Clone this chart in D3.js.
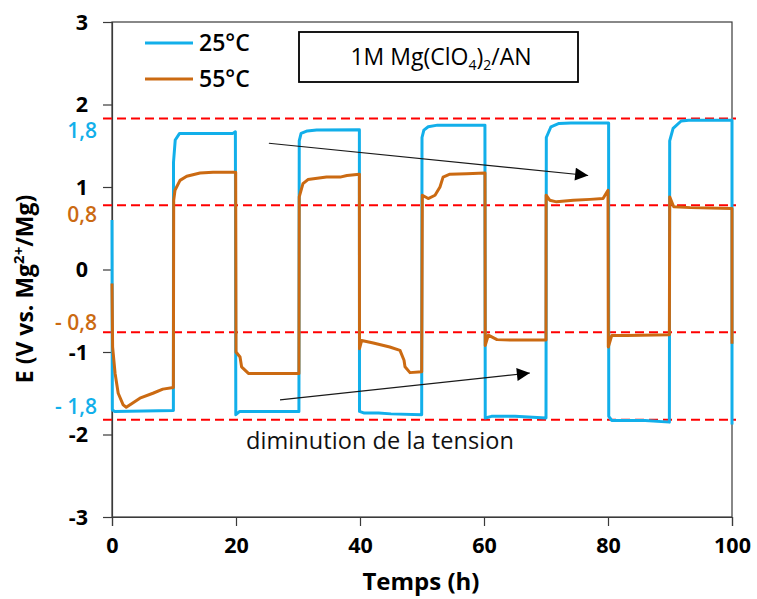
<!DOCTYPE html>
<html>
<head>
<meta charset="utf-8">
<script src="https://cdn.jsdelivr.net/npm/d3@7"></script>
<style>
  html, body { margin: 0; padding: 0; background: #fff; }
  svg { display: block; font-family: "Open Sans", "Noto Sans", sans-serif; }
</style>
</head>
<body>
<svg id="chart" width="757" height="599"></svg>
<script>
// ---- data ----
const xTicks = [0, 20, 40, 60, 80, 100];
const yTicks = [-3, -2, -1, 0, 1, 2, 3];

const series25Name = "25°C";
const series55Name = "55°C";

// [time (h), E (V)]
const blue25 = [
  [0, 0.6], [0.05, -1.7], [0.4, -1.72], [9.9, -1.71], [9.92, 1.3], [10.2, 1.57], [10.9, 1.65],
  [19.5, 1.65], [19.9, 1.67], [19.97, -1.76], [20.6, -1.72], [30.15, -1.72],
  [30.2, 1.56], [30.5, 1.65], [31.5, 1.68], [33, 1.69], [39.9, 1.695],
  [39.92, -1.72], [40.7, -1.74], [43, -1.74], [45, -1.75], [49.95, -1.76],
  [50, 1.6], [50.3, 1.69], [51, 1.73], [52.5, 1.75], [60.15, 1.75],
  [60.2, -1.8], [61.2, -1.78], [65, -1.78], [70, -1.8],
  [70.05, 1.6], [70.8, 1.73], [72.1, 1.77], [74, 1.775], [80.1, 1.775],
  [80.12, -1.78], [80.6, -1.83], [86, -1.83], [89.9, -1.85],
  [89.95, 1.56], [90.5, 1.71], [91.8, 1.8], [93, 1.81], [100, 1.81], [100, -1.88]
];

const orange55 = [
  [0, -0.17], [0.1, -0.94], [0.5, -1.26], [1, -1.5], [1.8, -1.64], [2.3, -1.67], [3.1, -1.63],
  [4.5, -1.56], [6.6, -1.5], [8.2, -1.45], [9.9, -1.43],
  [9.95, 0.84], [10.16, 0.96], [10.97, 1.08], [12.05, 1.13], [14.2, 1.17], [16.3, 1.18], [19.95, 1.18],
  [20, -1.0], [20.65, -1.06], [20.9, -1.18], [22, -1.26], [30.15, -1.26],
  [30.2, 0.88], [30.8, 1.04], [31.6, 1.09], [34.6, 1.12], [36.8, 1.12], [37.9, 1.14], [39.9, 1.155],
  [39.92, -0.96], [40.27, -0.86], [42.15, -0.89], [44.8, -0.94], [46.45, -0.98], [47.1, -1.1],
  [47.26, -1.18], [48.06, -1.25], [49.95, -1.24],
  [50.05, 0.9], [51, 0.86], [52.1, 0.9], [52.9, 1.0], [53.4, 1.12], [54.5, 1.155], [57.2, 1.16], [60.16, 1.17],
  [60.2, -0.92], [60.7, -0.795], [62.1, -0.85], [64.7, -0.856], [70, -0.856],
  [70.02, 0.9], [70.6, 0.84], [71.7, 0.82], [74.4, 0.84], [77.1, 0.85], [79.2, 0.86], [80.0, 0.96],
  [80.05, -0.94], [80.6, -0.8], [83, -0.8], [89.9, -0.79],
  [89.95, 0.88], [90.6, 0.76], [93.3, 0.75], [100, 0.74], [100, -0.9]
];

// reference (dashed) levels and their labels
const refLevels = [1.83, 0.78, -0.76, -1.82];
const refLabels = ["1,8", "0,8", "- 0,8", "- 1,8"];
const refLabelPos = [1.68, 0.66, -0.65, -1.66];
const refLabelSeries = ["25", "55", "55", "25"];

// annotation arrows, in data units [time, E]
const arrowUpper = [[25.3, 1.53], [76.8, 1.14]];
const arrowLower = [[27.1, -1.58], [67.4, -1.255]];
const noteText = "diminution de la tension";
const noteAt = [21.6, -2.18];

// ---- drawing ----
const BLUE = "#12AFEA";
const ORANGE = "#CB6A12";
const FONT = "'Open Sans', sans-serif";
const svg = d3.select("#chart");

const x = d3.scaleLinear().domain([0, 100]).range([112, 732]);
const y = d3.scaleLinear().domain([-3, 3]).range([517, 22]);

const axisColor = "#3a3a3a";

// plot frame
svg.append("rect")
  .attr("x", x(0)).attr("y", y(3))
  .attr("width", x(100) - x(0)).attr("height", y(-3) - y(3))
  .attr("fill", "none").attr("stroke", axisColor).attr("stroke-width", 1.2);

// axes
const fmt = d => String(d);
const yAxis = d3.axisLeft(y).tickValues(yTicks).tickSize(9).tickPadding(15).tickFormat(fmt);
const gy = svg.append("g").attr("transform", `translate(${x(0)},0)`).call(yAxis);
const xAxis = d3.axisBottom(x).tickValues(xTicks).tickSize(9).tickPadding(12).tickFormat(fmt);
const gx = svg.append("g").attr("transform", `translate(0,${y(-3)})`).call(xAxis);
[gx, gy].forEach(g => {
  g.select(".domain").attr("stroke", axisColor).attr("stroke-width", 1.2);
  g.selectAll(".tick line").attr("stroke", axisColor).attr("stroke-width", 1.2);
  g.selectAll(".tick text").attr("fill", "#000").attr("font-size", 21.5).attr("font-weight", "bold")
    .attr("font-family", FONT);
});
gy.selectAll(".tick text").attr("dy", "0.34em");

// reference dashed lines
svg.append("g").selectAll("line").data(refLevels).join("line")
  .attr("x1", 103).attr("x2", x(100) + 4)
  .attr("y1", d => y(d)).attr("y2", d => y(d))
  .attr("stroke", "#FF0000").attr("stroke-width", 2).attr("stroke-dasharray", "9,5");

svg.append("g").selectAll("text").data(refLabels).join("text")
  .attr("x", 97).attr("y", (d, i) => y(refLabelPos[i]))
  .attr("dy", "0.34em")
  .attr("text-anchor", "end")
  .attr("font-size", 21).attr("font-weight", 600)
  .attr("fill", (d, i) => refLabelSeries[i] === "25" ? BLUE : ORANGE)
  .text(d => d);

// series lines
const line = d3.line().x(d => x(d[0])).y(d => y(d[1]));
svg.append("path").datum(blue25).attr("d", line)
  .attr("fill", "none").attr("stroke", BLUE).attr("stroke-width", 3).attr("stroke-linejoin", "round");
svg.append("path").datum(orange55).attr("d", line)
  .attr("fill", "none").attr("stroke", ORANGE).attr("stroke-width", 3).attr("stroke-linejoin", "round");

// arrows
const defs = svg.append("defs");
defs.append("marker").attr("id", "ah").attr("viewBox", "0 0 10 10")
  .attr("refX", 10).attr("refY", 5).attr("markerWidth", 14).attr("markerHeight", 13)
  .attr("markerUnits", "userSpaceOnUse").attr("orient", "auto")
  .append("path").attr("d", "M0,0 L10,5 L0,10 Z").attr("fill", "#000");
[arrowUpper, arrowLower].forEach(a => {
  svg.append("line")
    .attr("x1", x(a[0][0])).attr("y1", y(a[0][1]))
    .attr("x2", x(a[1][0])).attr("y2", y(a[1][1]))
    .attr("stroke", "#1a1a1a").attr("stroke-width", 1.1).attr("marker-end", "url(#ah)");
});

// note text
svg.append("text").attr("x", x(noteAt[0])).attr("y", y(noteAt[1]))
  .attr("font-size", 23.5).attr("fill", "#111").attr("textLength", 268).text(noteText);

// legend
const legend = [{name: series25Name, color: BLUE, yy: 43}, {name: series55Name, color: ORANGE, yy: 79}];
const lg = svg.append("g");
legend.forEach(l => {
  lg.append("line").attr("x1", 145).attr("x2", 193).attr("y1", l.yy).attr("y2", l.yy)
    .attr("stroke", l.color).attr("stroke-width", 3);
  lg.append("text").attr("x", 199).attr("y", l.yy).attr("dy", "0.36em")
    .attr("font-size", 23).attr("font-weight", 600).attr("fill", "#000").text(l.name);
});

// electrolyte box
svg.append("rect").attr("x", 299).attr("y", 32).attr("width", 279).attr("height", 50)
  .attr("fill", "#fff").attr("stroke", "#000").attr("stroke-width", 1.8);
const bt = svg.append("text").attr("x", 441).attr("y", 65).attr("text-anchor", "middle")
  .attr("font-size", 23).attr("fill", "#000");
bt.append("tspan").text("1M Mg(ClO");
bt.append("tspan").attr("font-size", 14).attr("dy", 5).text("4");
bt.append("tspan").attr("dy", -5).text(")");
bt.append("tspan").attr("font-size", 14).attr("dy", 5).text("2");
bt.append("tspan").attr("dy", -5).text("/AN");

// axis titles
svg.append("text").attr("x", 421).attr("y", 590).attr("text-anchor", "middle")
  .attr("font-size", 24).attr("font-weight", "bold").attr("fill", "#000").text("Temps (h)");
const yt = svg.append("text").attr("transform", "translate(33,289) rotate(-90)")
  .attr("text-anchor", "middle").attr("font-size", 23).attr("font-weight", "bold").attr("fill", "#000");
yt.append("tspan").text("E (V vs. Mg");
yt.append("tspan").attr("font-size", 15).attr("dy", -9).text("2+");
yt.append("tspan").attr("dy", 9).text("/Mg)");
</script>
</body>
</html>
